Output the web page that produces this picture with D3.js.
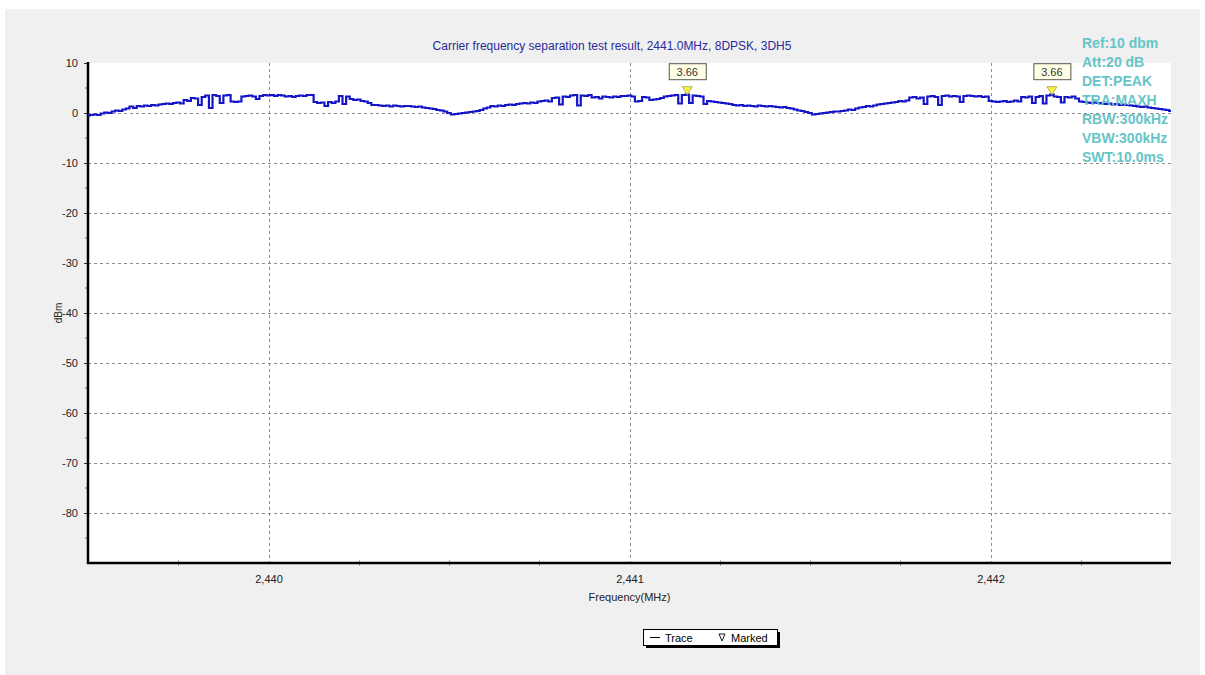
<!DOCTYPE html>
<html>
<head>
<meta charset="utf-8">
<script src="https://cdn.jsdelivr.net/npm/d3@7"></script>
<style>
  body { margin: 0; background: #fff; }
  svg text { font-family: Arial, "Liberation Sans", sans-serif; }
</style>
</head>
<body>
<div id="chart"></div>
<script>
// trace: spectrum analyser max-hold, one reading every 0.01 MHz from 2439.50
const freqStart = 2439.5;
const freqStep = 0.01;
const traceValues = [
  -0.5, -0.4, -0.3, -0.4, -0.1, 0.1, 0.0, 0.3, 0.5, 0.4,
  0.7, 0.9, 1.3, 1.0, 1.4, 1.3, 1.5, 1.4, 1.6, 1.5,
  1.7, 1.8, 1.9, 1.8, 2.0, 2.1, 1.9, 2.6, 2.4, 3.0,
  2.9, 1.6, 3.2, 3.5, 1.0, 3.6, 3.4, 2.0, 3.5, 3.6,
  2.3, 2.2, 2.3, 3.3, 3.4, 3.5, 3.3, 2.8, 3.4, 3.6,
  3.5, 3.6, 3.4, 3.6, 3.5, 3.3, 3.4, 3.2, 3.4, 3.5,
  3.4, 3.6, 3.6, 2.2, 2.0, 2.1, 1.4, 2.2, 2.0, 2.3,
  3.4, 1.8, 3.3, 2.8, 2.6, 2.7, 2.4, 2.3, 2.0, 1.6,
  1.6, 1.5, 1.4, 1.5, 1.3, 1.5, 1.4, 1.3, 1.4, 1.4,
  1.3, 1.2, 1.3, 1.1, 1.0, 0.9, 0.8, 0.6, 0.5, 0.3,
  0.0, -0.3, -0.2, -0.1, 0.0, 0.1, 0.2, 0.3, 0.4, 0.6,
  0.9, 1.1, 1.4, 1.3, 1.5, 1.4, 1.6, 1.7, 1.6, 1.8,
  1.9, 2.0, 1.9, 2.1, 2.0, 2.3, 2.4, 2.5, 2.3, 3.0,
  3.1, 1.7, 3.3, 3.2, 3.5, 3.6, 1.5, 3.5, 3.4, 3.6,
  3.1, 3.2, 2.9, 3.3, 3.2, 3.1, 3.3, 3.2, 3.4, 3.4,
  3.5, 3.3, 2.3, 2.4, 3.2, 3.1, 2.6, 2.7, 2.8, 3.0,
  3.3, 3.4, 3.5, 3.6, 1.9, 3.6, 3.66, 2.0, 3.5, 3.4,
  3.3, 1.8, 2.4, 2.3, 2.2, 2.1, 2.0, 1.9, 1.8, 1.6,
  1.5, 1.6, 1.4, 1.5, 1.4, 1.3, 1.5, 1.4, 1.3, 1.4,
  1.3, 1.2, 1.1, 1.2, 1.0, 0.9, 0.7, 0.5, 0.4, 0.2,
  0.0, -0.3, -0.2, -0.1, 0.0, 0.1, 0.2, 0.3, 0.3, 0.4,
  0.5, 0.7, 0.6, 0.9, 1.1, 1.2, 1.4, 1.3, 1.5, 1.7,
  1.8, 1.9, 2.0, 2.1, 2.2, 2.4, 2.3, 2.5, 3.1, 3.2,
  2.9, 3.1, 1.8, 3.3, 3.4, 3.2, 1.6, 3.4, 3.5, 3.3,
  3.4, 3.3, 2.2, 3.4, 3.5, 3.4, 3.3, 3.4, 3.2, 3.3,
  2.4, 2.3, 2.2, 2.3, 2.4, 2.2, 2.3, 2.5, 2.3, 3.2,
  3.1, 3.3, 2.0, 3.2, 3.4, 1.9, 3.5, 3.66, 3.3, 3.2,
  2.1, 3.2, 3.1, 3.3, 2.9, 2.3, 2.2, 2.1, 2.0, 2.1,
  2.0, 1.9, 1.8, 1.9, 1.7, 1.8, 1.6, 1.7, 1.6, 1.5,
  1.4, 1.3, 1.2, 1.3, 1.1, 1.0, 0.9, 0.8, 0.7, 0.6,
  0.4
];

const markerFreqs = [2441.16, 2442.17];
const markerValues = [3.66, 3.66];

const xMajorTicks = [2440, 2441, 2442];
const xMinorTicks = [2439.75, 2440.25, 2440.5, 2440.75, 2441.25, 2441.5, 2441.75, 2442.25];
const yTicks = [10, 0, -10, -20, -30, -40, -50, -60, -70, -80];
const yMinorTicks = [5, -5, -15, -25, -35, -45, -55, -65, -75, -85];

const settingsText = ["Ref:10 dbm", "Att:20 dB", "DET:PEAK", "TRA:MAXH", "RBW:300kHz", "VBW:300kHz", "SWT:10.0ms"];
const titleText = "Carrier frequency separation test result, 2441.0MHz, 8DPSK, 3DH5";

const width = 1205, height = 675;
const plot = { left: 88, top: 63, right: 1171, bottom: 563 };

const svg = d3.select("#chart").append("svg")
    .attr("width", width)
    .attr("height", height);

// outer panel
svg.append("rect")
    .attr("x", 5).attr("y", 9)
    .attr("width", 1195).attr("height", 666)
    .attr("fill", "#f0f0f0");

svg.append("rect")
    .attr("x", plot.left).attr("y", plot.top)
    .attr("width", plot.right - plot.left).attr("height", plot.bottom - plot.top)
    .attr("fill", "#fff");

const x = d3.scaleLinear()
    .domain([2439.5, 2442.5])
    .range([plot.left, plot.right]);

const y = d3.scaleLinear()
    .domain([-90, 10])
    .range([plot.bottom, plot.top]);

// grid lines
svg.append("g")
    .selectAll("line")
    .data(yTicks.filter(d => d < 10))
    .join("line")
    .attr("x1", plot.left).attr("x2", plot.right)
    .attr("y1", d => y(d) + 0.5).attr("y2", d => y(d) + 0.5)
    .attr("stroke", "#8c8c8c")
    .attr("stroke-dasharray", "3,3");

svg.append("g")
    .selectAll("line")
    .data(xMajorTicks)
    .join("line")
    .attr("x1", d => Math.round(x(d)) + 0.5).attr("x2", d => Math.round(x(d)) + 0.5)
    .attr("y1", plot.top).attr("y2", plot.bottom + 4)
    .attr("stroke", "#8c8c8c")
    .attr("stroke-dasharray", "3,3");

// minor x ticks
svg.append("g")
    .selectAll("line")
    .data(xMinorTicks)
    .join("line")
    .attr("x1", d => Math.round(x(d)) + 0.5).attr("x2", d => Math.round(x(d)) + 0.5)
    .attr("y1", plot.bottom - 3).attr("y2", plot.bottom + 3)
    .attr("stroke", "#aaa");

// y axis
const yAxis = svg.append("g")
    .attr("transform", `translate(${plot.left},0)`)
    .call(d3.axisLeft(y).tickValues(yTicks).tickSize(4).tickFormat(d => String(d)));
yAxis.select(".domain").remove();
yAxis.selectAll(".tick line").attr("stroke", "#333");
yAxis.selectAll(".tick text")
    .attr("fill", "#222")
    .attr("font-size", 11)
    .attr("x", -10);

svg.append("g")
    .selectAll("line")
    .data(yMinorTicks)
    .join("line")
    .attr("x1", plot.left - 3).attr("x2", plot.left)
    .attr("y1", d => y(d)).attr("y2", d => y(d))
    .attr("stroke", "#666");

// x axis labels
const xAxis = svg.append("g")
    .attr("transform", `translate(0,${plot.bottom})`)
    .call(d3.axisBottom(x).tickValues(xMajorTicks).tickSize(0).tickFormat(d3.format(",d")));
xAxis.select(".domain").remove();
xAxis.selectAll(".tick text")
    .attr("fill", "#222")
    .attr("font-size", 11)
    .attr("y", 12);

// axis lines
svg.append("line")
    .attr("x1", plot.left).attr("x2", plot.left)
    .attr("y1", plot.top - 1).attr("y2", plot.bottom + 1)
    .attr("stroke", "#000").attr("stroke-width", 2.5);
svg.append("line")
    .attr("x1", plot.left - 1).attr("x2", plot.right)
    .attr("y1", plot.bottom).attr("y2", plot.bottom)
    .attr("stroke", "#000").attr("stroke-width", 2.5);

// axis titles
svg.append("text")
    .attr("x", x(2441)).attr("y", 601)
    .attr("text-anchor", "middle")
    .attr("font-size", 11)
    .attr("fill", "#222")
    .text("Frequency(MHz)");

svg.append("text")
    .attr("transform", `translate(62,${y(-40)}) rotate(-90)`)
    .attr("text-anchor", "middle")
    .attr("font-size", 10)
    .attr("fill", "#222")
    .text("dBm");

svg.append("text")
    .attr("x", 612).attr("y", 50)
    .attr("text-anchor", "middle")
    .attr("font-size", 12)
    .attr("fill", "#2a2a9a")
    .text(titleText);

// trace
const traceData = traceValues.map((v, i) => ({ f: freqStart + i * freqStep, v: v }));

svg.append("path")
    .datum(traceData)
    .attr("fill", "none")
    .attr("stroke", "#1414c8")
    .attr("stroke-width", 2.2)
    .attr("d", d3.line().x(d => x(d.f)).y(d => y(d.v)).curve(d3.curveStep));

// markers
const markers = svg.append("g")
    .selectAll("g")
    .data(markerFreqs.map((f, i) => ({ f: f, v: markerValues[i] })))
    .join("g")
    .attr("transform", d => `translate(${x(d.f)},${y(d.v)})`);

markers.append("path")
    .attr("d", "M-5,-8 L5,-8 L0,0 Z")
    .attr("fill", "#f5f04a")
    .attr("stroke", "#a8a040")
    .attr("stroke-width", 0.8);

markers.append("rect")
    .attr("x", -18).attr("y", -31)
    .attr("width", 37).attr("height", 16)
    .attr("fill", "#ffffe6")
    .attr("stroke", "#555");

markers.append("text")
    .attr("x", 0).attr("y", -19)
    .attr("text-anchor", "middle")
    .attr("font-size", 11)
    .attr("fill", "#333")
    .text(d => d.v.toFixed(2));

// analyser settings
svg.append("g")
    .selectAll("text")
    .data(settingsText)
    .join("text")
    .attr("x", 1082)
    .attr("y", (d, i) => 48 + i * 19)
    .attr("font-size", 14)
    .attr("font-weight", "bold")
    .attr("fill", "#66c4c8")
    .text(d => d);

// legend
const legend = svg.append("g").attr("transform", "translate(643,629)");
legend.append("rect")
    .attr("x", 3).attr("y", 3).attr("width", 134).attr("height", 16)
    .attr("fill", "#000");
legend.append("rect")
    .attr("x", 0.5).attr("y", 0.5).attr("width", 134).attr("height", 16)
    .attr("fill", "#fff").attr("stroke", "#000");
legend.append("line")
    .attr("x1", 7).attr("x2", 17).attr("y1", 8.5).attr("y2", 8.5)
    .attr("stroke", "#000");
legend.append("text")
    .attr("x", 22).attr("y", 12.5)
    .attr("font-size", 11)
    .text("Trace");
legend.append("path")
    .attr("d", "M76,5 L82,5 L79,12 Z")
    .attr("fill", "#fff")
    .attr("stroke", "#000")
    .attr("stroke-width", 0.9);
legend.append("text")
    .attr("x", 88).attr("y", 12.5)
    .attr("font-size", 11)
    .text("Marked");
</script>
</body>
</html>
